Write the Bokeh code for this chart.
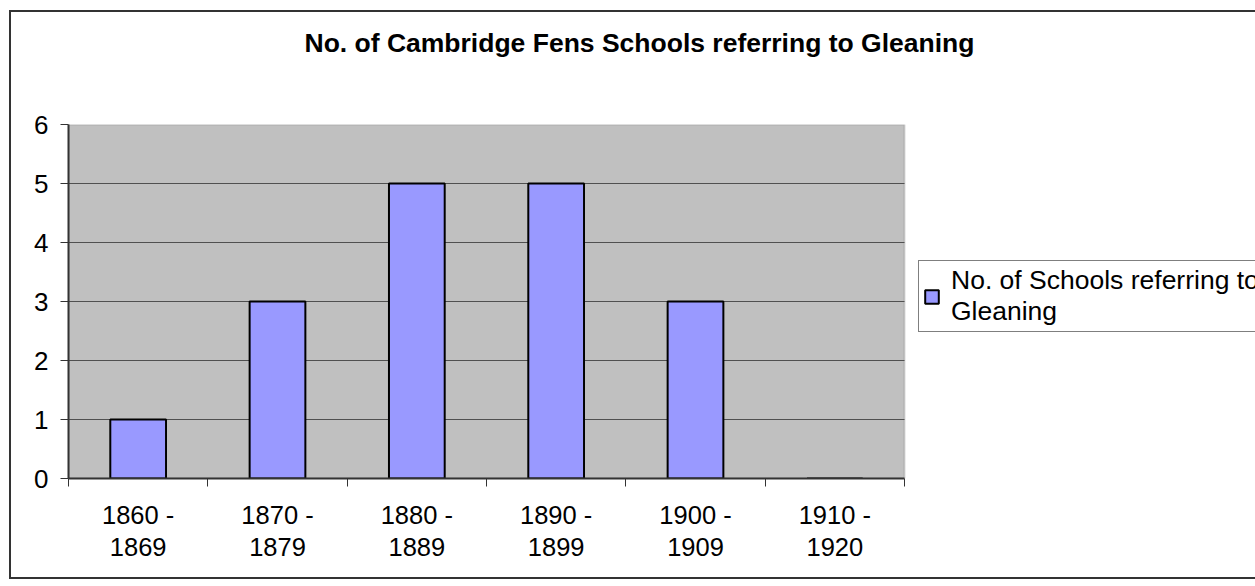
from bokeh.plotting import figure
from bokeh.models import Range1d, FixedTicker, Legend, LegendItem, BoxAnnotation, Title
from bokeh.embed import file_html
from bokeh.resources import INLINE

# ---- data ----
categories = ["1860 -\n1869", "1870 -\n1879", "1880 -\n1889", "1890 -\n1899", "1900 -\n1909", "1910 -\n1920"]
schools = [1, 3, 5, 5, 3, 0]
y_ticks = [0, 1, 2, 3, 4, 5, 6]
title_text = "No. of Cambridge Fens Schools referring to Gleaning"
series_name = "No. of Schools referring to\nGleaning"

FONT = "Liberation Sans"
n = len(categories)
y_max = max(y_ticks)
centers = [i + 0.5 for i in range(n)]
bounds = list(range(n + 1))

# layout (pixels)
FIG_W, FIG_H = 1244, 565
B_LEFT, B_TOP, B_BOTTOM = 57, 112, 99
PLOT_PX = 836                      # width of the grey plot area
frame_w = FIG_W - B_LEFT
x_end = n * frame_w / PLOT_PX      # frame extends to the right to hold the legend

p = figure(width=FIG_W, height=FIG_H, x_range=Range1d(0, x_end), y_range=Range1d(0, y_max),
           output_backend="svg", toolbar_location=None)
# outer chart border (left, top, bottom only; the chart runs off the right edge)
p.styles = {"margin-left": "11px", "margin-top": "12px",
            "box-shadow": "-2px 0 0 0 #333333, 0 -2px 0 0 #333333, 0 2px 0 0 #333333, "
                          "-2px -2px 0 0 #333333, -2px 2px 0 0 #333333"}
p.min_border_left = B_LEFT
p.min_border_right = 0
p.min_border_top = B_TOP
p.min_border_bottom = B_BOTTOM
p.background_fill_color = "white"
p.border_fill_color = "white"
p.outline_line_color = None
p.xgrid.visible = False
p.ygrid.visible = False

# title (outermost) + spacer between title and plot
p.title.text = title_text
p.title.text_font = FONT
p.title.text_font_size = "26.5px"
p.title.text_font_style = "bold"
p.title.text_color = "black"
p.title.align = "left"
p.title.offset = 236
p.title.standoff = 0
p.title.vertical_align = "bottom"
p.add_layout(Title(text=" ", text_font_size="1px", standoff=64), "above")

# grey plot area
p.add_layout(BoxAnnotation(left=0, right=n, bottom=0, top=y_max,
                           fill_color="#C0C0C0", fill_alpha=1,
                           line_color="#808080", line_width=2, level="image"))

# horizontal gridlines
inner = y_ticks[1:-1]
p.segment(x0=[0] * len(inner), x1=[n] * len(inner), y0=inner, y1=inner,
          line_color="#505050", line_width=1)

# y axis
ya = p.yaxis[0]
ya.ticker = FixedTicker(ticks=y_ticks)
ya.axis_line_color = "#333333"
ya.axis_line_width = 2
ya.major_tick_in = 0
ya.major_tick_out = 8
ya.major_tick_line_color = "#333333"
ya.major_tick_line_width = 1
ya.minor_tick_line_color = None
ya.major_label_standoff = 12
ya.major_label_text_font = FONT
ya.major_label_text_font_size = "26px"
ya.major_label_text_color = "black"

# x axis
xa = p.xaxis[0]
xa.bounds = (0, n)
xa.ticker = FixedTicker(ticks=centers, minor_ticks=bounds)
xa.major_label_overrides = {c: lab for c, lab in zip(centers, categories)}
xa.axis_line_color = "#333333"
xa.axis_line_width = 2
xa.major_tick_in = 0
xa.major_tick_out = 0
xa.major_tick_line_color = None
xa.minor_tick_in = 0
xa.minor_tick_out = 8
xa.minor_tick_line_color = "#333333"
xa.minor_tick_line_width = 1
xa.major_label_standoff = 14
xa.major_label_text_font = FONT
xa.major_label_text_font_size = "25.5px"
xa.major_label_text_line_height = 1.15
xa.major_label_text_color = "black"
xa.major_label_text_align = "center"

# bars
r = p.vbar(x=centers, top=schools, width=0.4, bottom=0,
           fill_color="#9999FF", line_color="black", line_width=2)

# legend
legend = Legend(items=[LegendItem(label=series_name, renderers=[r])],
                location=(850, 146))
legend.label_text_font = FONT
legend.label_text_font_size = "26.5px"
legend.label_text_line_height = 1.1
legend.label_text_color = "black"
legend.glyph_width = 17
legend.glyph_height = 17
legend.label_standoff = 11
legend.padding = 4
legend.margin = 0
legend.spacing = 0
legend.border_line_color = "black"
legend.border_line_width = 1
legend.background_fill_color = "white"
legend.background_fill_alpha = 1
p.add_layout(legend, "center")

open("out.html", "w").write(file_html(p, INLINE))
